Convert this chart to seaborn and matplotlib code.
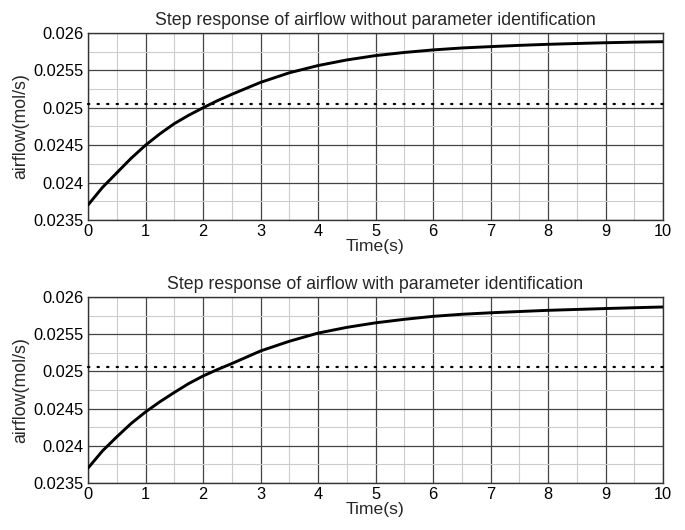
import numpy as np
import pandas as pd
import matplotlib
matplotlib.use("Agg")
import matplotlib.pyplot as plt
import seaborn as sns
from matplotlib.ticker import MultipleLocator, FixedLocator

# Data
time_s = [0.0, 0.25, 0.5, 0.75, 1.0, 1.25, 1.5, 1.75, 2.0, 2.25, 2.5, 2.75, 3.0,
          3.5, 4.0, 4.5, 5.0, 5.5, 6.0, 6.5, 7.0, 7.5, 8.0, 8.5, 9.0, 9.5, 10.0]
airflow_without = [0.023700, 0.023934, 0.024130, 0.024325, 0.024500, 0.024652, 0.024788,
                   0.024900, 0.025000, 0.025095, 0.025180, 0.025260, 0.025340,
                   0.025468, 0.025565, 0.025640, 0.025698, 0.025740, 0.025774, 0.025800,
                   0.025818, 0.025835, 0.025849, 0.025860, 0.025870, 0.025878, 0.025884]
airflow_with = [0.023700, 0.023930, 0.024120, 0.024300, 0.024455, 0.024592, 0.024717,
                0.024836, 0.024938, 0.025025, 0.025105, 0.025190, 0.025275,
                0.025405, 0.025515, 0.025592, 0.025653, 0.025700, 0.025740, 0.025768,
                0.025788, 0.025805, 0.025821, 0.025833, 0.025845, 0.025856, 0.025866]
reference_level = [0.025055, 0.025055]
reference_time = [0.0, 10.0]

titles = ["Step response of airflow without parameter identification",
          "Step response of airflow with parameter identification"]
y_ticks = [0.0235, 0.024, 0.0245, 0.025, 0.0255, 0.026]
y_tick_labels = ["0.0235", "0.024", "0.0245", "0.025", "0.0255", "0.026"]
x_ticks = list(range(0, 11))

sns.set_style("white")
plt.rcParams['font.family'] = ['Liberation Sans', 'DejaVu Sans']

fig = plt.figure(figsize=(6.85, 5.30), dpi=100)
positions = [[0.1285, 0.585, 0.8395, 0.3527], [0.1285, 0.0887, 0.8395, 0.3509]]

for pos, series, title in zip(positions, [airflow_without, airflow_with], titles):
    ax = fig.add_axes(pos)
    df = pd.DataFrame({"t": time_s, "y": series})
    ref = pd.DataFrame({"t": reference_time, "y": reference_level})
    sns.lineplot(data=ref, x="t", y="y", ax=ax, color="black", lw=1.6,
                 linestyle=(0, (0.6, 3.7)), dash_capstyle="round", zorder=3,
                 clip_on=False)
    sns.lineplot(data=df, x="t", y="y", ax=ax, color="black", lw=2.1, zorder=4)
    ax.set_xlim(0, 10)
    ax.set_ylim(0.0235, 0.026)
    ax.xaxis.set_major_locator(FixedLocator(x_ticks))
    ax.set_xticklabels([str(v) for v in x_ticks])
    ax.yaxis.set_major_locator(FixedLocator(y_ticks))
    ax.set_yticklabels(y_tick_labels)
    ax.xaxis.set_minor_locator(MultipleLocator(0.5))
    ax.yaxis.set_minor_locator(MultipleLocator(0.00025))
    ax.grid(which="major", color="#444444", lw=0.9)
    ax.grid(which="minor", color="#cccccc", lw=0.8)
    ax.set_axisbelow(True)
    ax.tick_params(which="both", length=0, labelsize=11.8, pad=3, colors="black")
    for s in ax.spines.values():
        s.set_color("#333333")
        s.set_linewidth(1.0)
    ax.set_title(title, fontsize=12.8, pad=6)
    ax.set_xlabel("Time(s)", fontsize=12.6, labelpad=0)
    ax.set_ylabel("airflow(mol/s)", fontsize=12.8, labelpad=3)

fig.savefig("out.png", dpi=100)
